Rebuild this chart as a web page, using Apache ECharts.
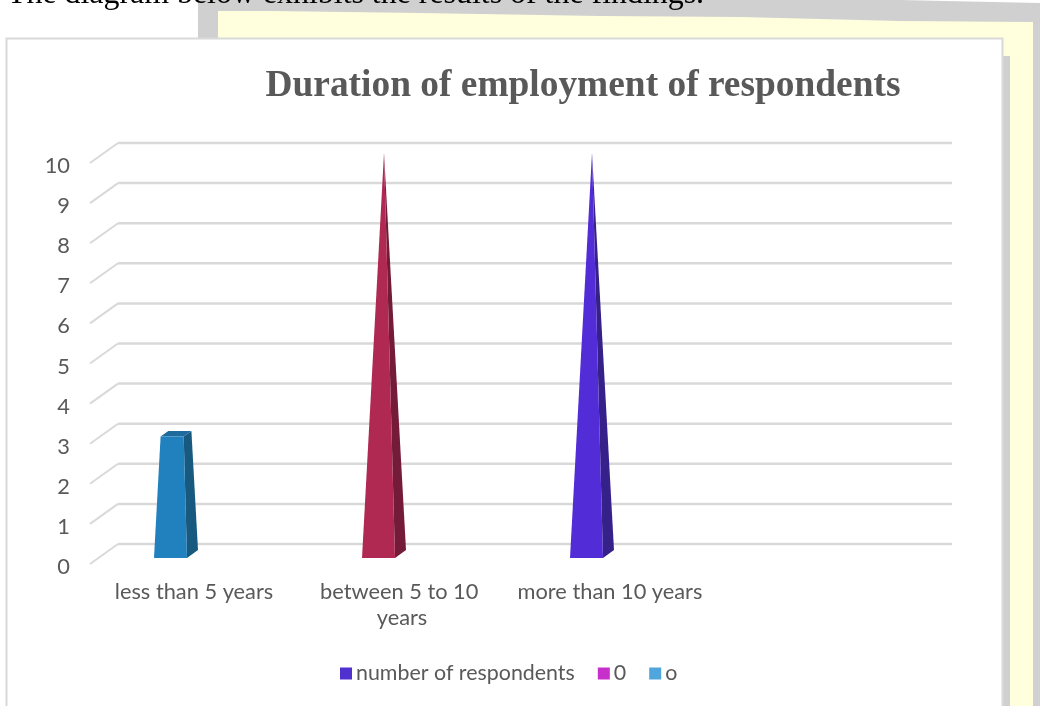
<!DOCTYPE html>
<html><head><meta charset="utf-8">
<style>html,body{margin:0;padding:0;background:#fff}#c{width:1040px;height:706px}</style>
<script src="https://cdn.jsdelivr.net/npm/echarts@6/dist/echarts.min.js"></script>
</head><body><div id="c"></div>
<script>
const categories = ['less than 5 years', 'between 5 to 10 years', 'more than 10 years', ''];
const respondents = [3, 10, 10, null];
const yTicks = [0,1,2,3,4,5,6,7,8,9,10];
const seriesNames = ['number of respondents', '0', 'o'];
const legendColors = ['#5130D0', '#C62FC9', '#4EA6DC'];
const barFaces = [
  {front:'#2181BF', side:'#18597F', top:'#1E6B9E'},
  {front:'#AF2952', side:'#731B38', top:'#8A2042'},
  {front:'#522CD6', side:'#36218A', top:'#3F25A8'}
];
const GREY = '#D9D9D9';
const chart = echarts.init(document.getElementById('c'), null, {renderer:'canvas'});
const DX = 28, DY = 20, YMAX = 10;

function renderBar(params, api){
  const i = api.value(0), v = api.value(1);
  const p0 = api.coord([i, 0]), pm = api.coord([i, YMAX]);
  const f = barFaces[i];
  const hw = 16.5, dpx = 11, dpy = 8;
  const cx = p0[0] - 23.5, by = p0[1] - 6;
  const ax = cx + dpx/2, ay = pm[1] - 6 - dpy/2;
  const bcy = by - dpy/2;
  const t = v / YMAX;
  const pt = (sx, sy) => {
    const bx = cx + sx + dpx/2, b = bcy + sy;
    return [bx + (ax - bx) * t, b + (ay - b) * t];
  };
  const fl = [cx - hw, by], fr = [cx + hw, by], br = [cx + hw + dpx, by - dpy];
  const tfl = pt(-hw - dpx/2, dpy/2), tfr = pt(hw - dpx/2, dpy/2), tbr = pt(hw + dpx/2, -dpy/2), tbl = pt(-hw + dpx/2, -dpy/2);
  return {type:'group', children:[
    {type:'polygon', shape:{points:[fr, br, tbr, tfr]}, style:{fill:f.side}},
    {type:'polygon', shape:{points:[tfl, tfr, tbr, tbl]}, style:{fill:f.top}},
    {type:'polygon', shape:{points:[fl, fr, tfr, tfl]}, style:{fill:f.front}}
  ]};
}
function renderDepth(params, api){
  const p = api.coord([0, api.value(0)]);
  const x0 = 90, y = p[1];
  return {type:'line', shape:{x1:x0, y1:y, x2:x0+DX, y2:y-DY}, style:{stroke:GREY, lineWidth:2}};
}
function renderBack(params, api){
  const p = api.coord([0, api.value(0)]);
  return {type:'line', shape:{x1:90+DX, y1:p[1]-DY, x2:952, y2:p[1]-DY}, style:{stroke:GREY, lineWidth:2.5}};
}
chart.setOption({
  animation:false,
  backgroundColor:'#fff',
  graphic:[
    {type:'polygon', z:-10, silent:true, shape:{points:[[198,0],[900,0],[945,1],[1040,3],[1040,706],[198,706]]}, style:{fill:'#D0D0D0'}},
    {type:'polygon', z:-9, silent:true, shape:{points:[[218,11],[270,11],[420,13],[600,16],[740,17],[900,21],[1033,22],[1033,706],[218,706]]}, style:{fill:'#FFFFDD'}},
    {type:'rect', z:-8, silent:true, shape:{x:1003,y:56,width:7,height:650}, style:{fill:'#D0D0D0'}},
    {type:'rect', z:-7, silent:true, shape:{x:6.5,y:38.5,width:996,height:680}, style:{fill:'#fff', stroke:GREY, lineWidth:2}},
    {type:'text', z:-6, silent:true, left:7, top:-21, style:{text:'The diagram below exhibits the results of the findings.', font:'31.9px "Liberation Serif"', fill:'#000'}}
  ],
  title:{text:'Duration of employment of respondents', left:578, top:63, textAlign:'center',
    textStyle:{fontFamily:'Liberation Serif', fontWeight:'bold', fontSize:37.4, color:'#595959'}},
  legend:{left:335, top:658, itemWidth:12, itemHeight:12, itemGap:23, icon:'rect', data:seriesNames,
    textStyle:{fontFamily:'Lato', fontSize:21.4, color:'#595959', padding:[0,0,0,-1]}},
  grid:{left:90, top:163, width:832, height:401, containLabel:false},
  xAxis:{type:'category', data:categories, axisLine:{show:false}, axisTick:{show:false},
    axisLabel:{interval:0, margin:15, width:200, overflow:'break', lineHeight:26, fontFamily:'Lato', fontSize:21.8, color:'#595959'}},
  yAxis:{type:'value', min:0, max:YMAX, interval:1, splitLine:{show:false}, axisLine:{show:false}, axisTick:{show:false},
    axisLabel:{margin:20, verticalAlign:'top', lineHeight:6, fontFamily:'Lato', fontSize:21.8, color:'#595959'}},
  series:[
    {type:'custom', name:'grid-back', renderItem:renderBack, data:yTicks.map(v=>[v]), encode:{y:0}, z:1, silent:true},
    {type:'custom', name:'grid-depth', renderItem:renderDepth, data:yTicks.map(v=>[v]), encode:{y:0}, z:1, silent:true},
    {type:'custom', name:seriesNames[0], renderItem:renderBar, data:respondents.map((v,i)=>[i,v]).filter(d=>d[1]!==null), encode:{x:0,y:1}, z:3, itemStyle:{color:legendColors[0]}},
    {type:'bar', name:seriesNames[1], data:[], itemStyle:{color:legendColors[1]}},
    {type:'bar', name:seriesNames[2], data:[], itemStyle:{color:legendColors[2]}}
  ]
});
</script></body></html>
